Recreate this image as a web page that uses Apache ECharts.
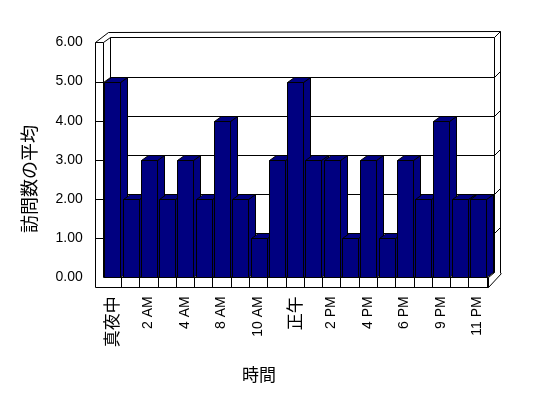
<!DOCTYPE html>
<html>
<head>
<meta charset="utf-8">
<script src="https://cdn.jsdelivr.net/npm/echarts@6/dist/echarts.min.js"></script>
<style>
  html, body { margin: 0; padding: 0; background: #fff; }
  #chart { width: 548px; height: 398px; }
</style>
</head>
<body>
<div id="chart"></div>
<script>
// 時間帯ごとの訪問数の平均
var hours = ['真夜中', '1 AM', '2 AM', '3 AM', '4 AM', '7 AM', '8 AM', '9 AM', '10 AM', '11 AM',
             '正午', '1 PM', '2 PM', '3 PM', '4 PM', '5 PM', '6 PM', '8 PM', '9 PM', '10 PM', '11 PM'];
var visits = [5, 2, 3, 2, 3, 2, 4, 2, 1, 3, 5, 3, 3, 1, 3, 1, 3, 2, 4, 2, 2];
var yTicks = [0, 1, 2, 3, 4, 5, 6];

var BAR_COLOR = '#000080';
var DX = 7, DY = -5;      // 奥行き
var WALL = 8, FLOOR = 9.4, BACK = 6;
var LATIN = '"Liberation Sans"';
var CJK = '"Noto Sans CJK JP"';

function px(v) { return Math.round(v) + 0.5; }
function seg(x1, y1, x2, y2) {
    return {
        type: 'line',
        shape: { x1: px(x1), y1: px(y1), x2: px(x2), y2: px(y2) },
        style: { stroke: '#000', lineWidth: 1 }
    };
}

var myChart = echarts.init(document.getElementById('chart'));

// 枠（壁と床）
function renderFrame(params, api) {
    var cs = params.coordSys;
    var L = cs.x, R = cs.x + cs.width, T = cs.y, B = cs.y + cs.height;
    var band = api.size([1, 0])[0];
    var els = [];
    // 奥の壁
    els.push(seg(L + DX, T + DY, R + DX, T + DY));
    els.push(seg(R + DX, T + DY, R + DX, B + DY));
    els.push(seg(L + DX, T + DY, L + DX, B + DY));
    els.push(seg(L + DX, B + DY, R + DX, B + DY));
    els.push(seg(L + 5, T - 10, R + DX + BACK, T + DY - BACK));
    els.push(seg(R + DX, T + DY, R + DX + BACK, T + DY - BACK));
    els.push(seg(R + DX + BACK, T + DY - BACK, R + DX + BACK, B - 4));
    yTicks.forEach(function (v) {
        var y = api.coord([0, v])[1];
        if (v > 0 && v < 6) {
            els.push(seg(L + DX, y + DY, R + DX, y + DY));
            els.push(seg(R + DX, y + DY, R + DX + BACK, y + DY - BACK));
            els.push(seg(L - WALL, y, L, y));
        }
        if (v > 0) els.push(seg(L, y, L + DX, y + DY));
    });
    // 左の壁
    els.push(seg(L - WALL, T, L - WALL, B + FLOOR));
    els.push(seg(L, T, L, B));
    els.push(seg(L - WALL, T, L, T));
    els.push(seg(L - WALL, T, L + 5, T - 10));
    // 床
    els.push(seg(L, B, R + 1.6, B));
    els.push(seg(L - WALL, B + FLOOR, R + 1.6, B + FLOOR));
    els.push(seg(R + 1.6, B, R + 1.6, B + FLOOR));
    els.push(seg(R + 1.6, B + FLOOR, R + DX + BACK + 1, B - 4));
    els.push(seg(R + 1.6, B, R + DX, B + DY));
    for (var i = 1; i <= hours.length; i++) {
        var x = L + i * band;
        els.push(seg(x, B, x, B + FLOOR));
    }
    return { type: 'group', children: els };
}

// 3D の棒
function renderBar(params, api) {
    var idx = api.value(0);
    var base = api.coord([idx, 0]);
    var top = api.coord([idx, api.value(1)]);
    var band = api.size([1, 0])[0];
    var x0 = Math.round(base[0] - band / 2 + band * 0.09);
    var w = Math.round(band * 0.86);
    var yT = Math.round(top[1]), yB = Math.round(base[1]);
    var st = { fill: BAR_COLOR, stroke: '#000', lineWidth: 1 };
    var a = x0 + 0.5, b = x0 + w + 0.5, t = yT + 0.5, bt = yB + 0.5;
    return {
        type: 'group',
        children: [
            { type: 'polygon', shape: { points: [[b, t], [b + DX, t + DY], [b + DX, bt + DY], [b, bt]] }, style: st },
            { type: 'polygon', shape: { points: [[a, t], [b, t], [b + DX, t + DY], [a + DX, t + DY]] }, style: st },
            { type: 'rect', shape: { x: a, y: t, width: w, height: bt - t }, style: st }
        ]
    };
}

option = {
    animation: false,
    backgroundColor: '#fff',
    grid: {
        left: 102.7,
        right: 61.3,
        top: 42.4,
        bottom: 120.7
    },
    xAxis: {
        type: 'category',
        data: hours,
        axisLine: { show: false },
        axisTick: { show: false },
        axisLabel: {
            interval: 1,
            rotate: 90,
            margin: 19,
            color: '#000',
            fontFamily: LATIN,
            fontSize: 14,
            formatter: function (v) {
                return /[^\x00-\x7F]/.test(v) ? '{c|' + v + '}' : v;
            },
            rich: {
                c: { fontFamily: CJK, fontSize: 17, color: '#000' }
            }
        }
    },
    yAxis: {
        type: 'value',
        min: 0,
        max: 6,
        interval: 1,
        axisLine: { show: false },
        axisTick: { show: false },
        splitLine: { show: false },
        axisLabel: {
            margin: 20,
            padding: [3, 0, 0, 0],
            color: '#000',
            fontFamily: LATIN,
            fontSize: 14,
            formatter: function (v) { return v.toFixed(2); }
        }
    },
    graphic: [
        {
            type: 'text', x: 259, y: 375,
            style: { text: '時間', font: '17px ' + CJK, fill: '#000', align: 'center', verticalAlign: 'middle' }
        },
        {
            type: 'text', x: 29, y: 179, rotation: Math.PI / 2,
            style: { text: '訪問数の平均', font: '18px ' + CJK, fill: '#000', align: 'center', verticalAlign: 'middle' }
        }
    ],
    series: [
        {
            type: 'custom',
            name: 'frame',
            renderItem: renderFrame,
            data: [[0, 0]],
            z: 1,
            silent: true
        },
        {
            type: 'custom',
            name: '訪問数の平均',
            renderItem: renderBar,
            data: visits.map(function (v, i) { return [i, v]; }),
            encode: { x: 0, y: 1 },
            z: 2
        }
    ]
};
myChart.setOption(option);

window.addEventListener('resize', function () {
    myChart.resize();
});
</script>
</body>
</html>
